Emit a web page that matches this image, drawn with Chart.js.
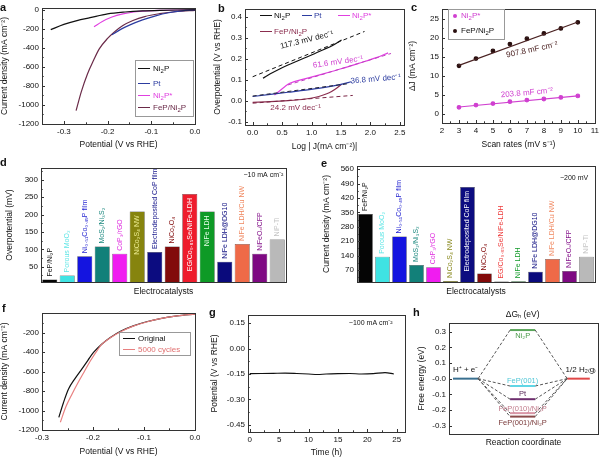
<!DOCTYPE html>
<html>
<head>
<meta charset="utf-8">
<script src="https://cdn.jsdelivr.net/npm/chart.js@4.4.1/dist/chart.umd.min.js"></script>
<style>
body { margin: 0; background: #fff; }
#fig { position: relative; width: 600px; height: 458px; overflow: hidden; font-family: "Liberation Sans", Arial, sans-serif; color: #111; }
.box { position: absolute; }
.letter { position: absolute; font-weight: bold; font-size: 11px; line-height: 12px; }
.leg { position: absolute; font-size: 8px; line-height: 10px; white-space: nowrap; }
.leg sub { font-size: 6px; vertical-align: -2px; line-height: 0; }
.legline { position: absolute; height: 0; }
.legbox { position: absolute; border: 1px solid #999; box-sizing: border-box; }
.legdot { position: absolute; width: 4px; height: 4px; border-radius: 2px; }
</style>
</head>
<body>
<div id="fig"></div>
<script>
// ---- panel a: polarization curves
var aNi2P_V = [-0.330, -0.300, -0.270, -0.240, -0.200, -0.160, -0.120, -0.080, -0.040, 0.000];
var aNi2P_J = [-208, -152, -112, -82, -42, -22, -10, -4, -1, 0];
var aPt_V = [-0.190, -0.170, -0.150, -0.120, -0.090, -0.060, -0.030, 0.000];
var aPt_J = [-262, -205, -160, -105, -62, -30, -10, 0];
var aNi2Ps_V = [-0.231, -0.212, -0.190, -0.165, -0.140, -0.110, -0.080, -0.040, 0.000];
var aNi2Ps_J = [-178, -122, -75, -42, -22, -10, -4, -1, 0];
var aFeP_V = [-0.272, -0.260, -0.246, -0.232, -0.219, -0.200, -0.185, -0.165, -0.142, -0.115, -0.081, -0.040, 0.000];
var aFeP_J = [-1060, -860, -674, -530, -410, -300, -235, -165, -112, -70, -40, -17, -5];
var aXTicks = [-0.3, -0.2, -0.1, 0.0];
var aXLabels = ['-0.3', '-0.2', '-0.1', '0.0'];
var aYTicks = [0, -200, -400, -600, -800, -1000, -1200];
var aYLabels = ['0', '-200', '-400', '-600', '-800', '-1000', '-1200'];

// ---- panel b: Tafel plots
var bNi2P_X = [0.175, 0.30, 0.45, 0.60, 0.75, 0.90, 1.05, 1.20, 1.35, 1.51];
var bNi2P_Y = [0.107, 0.128, 0.150, 0.170, 0.188, 0.206, 0.224, 0.243, 0.262, 0.289];
var bNi2PFit_X = [0.0, 1.9];
var bNi2PFit_Y = [0.114, 0.330];
var bPt_X = [0.0, 0.3, 0.6, 0.9, 1.2, 1.5, 1.68];
var bPt_Y = [0.020, 0.030, 0.040, 0.050, 0.062, 0.078, 0.090];
var bPtFit_X = [0.0, 1.6];
var bPtFit_Y = [0.022, 0.080];
var bNi2Ps_X = [0.37, 0.45, 0.55, 0.63, 0.90, 1.20, 1.50, 1.80, 2.10, 2.30];
var bNi2Ps_Y = [0.027, 0.045, 0.068, 0.083, 0.105, 0.128, 0.152, 0.178, 0.205, 0.228];
var bNi2PsFit_X = [0.6, 2.35];
var bNi2PsFit_Y = [0.075, 0.225];
var bFeP_X = [0.0, 0.3, 0.6, 0.9, 1.05, 1.2, 1.3, 1.4, 1.51];
var bFeP_Y = [-0.008, -0.005, 0.000, 0.008, 0.015, 0.027, 0.038, 0.055, 0.078];
var bFePFit_X = [0.0, 1.7];
var bFePFit_Y = [-0.012, 0.025];
var bXTicks = [0, 0.5, 1.0, 1.5, 2.0, 2.5];
var bXLabels = ['0.0', '0.5', '1.0', '1.5', '2.0', '2.5'];
var bYTicks = [-0.1, 0.0, 0.1, 0.2, 0.3, 0.4];
var bYLabels = ['-0.1', '0.0', '0.1', '0.2', '0.3', '0.4'];

// ---- panel c: double layer capacitance
var cScanRates = [3, 4, 5, 6, 7, 8, 9, 10];
var cFeP = [12.7, 14.6, 16.6, 18.4, 19.8, 21.2, 22.5, 24.1];
var cNi2Ps = [1.8, 2.4, 2.8, 3.3, 3.7, 4.0, 4.4, 4.8];
var cFePFit = [12.8, 24.2];
var cNi2PsFit = [1.9, 4.8];
var cXTicks = [2, 3, 4, 5, 6, 7, 8, 9, 10, 11];
var cYTicks = [0, 5, 10, 15, 20, 25];

// ---- panels d, e: comparison bars
var catalysts = ['FeP/Ni₂P', 'Porous MoO₂', 'Ni₀.₅₁Co₀.₄₉P film', 'MoS₂/Ni₃S₂', 'CoP₃/rGO', 'NiCo₂S₄ NW',
  'Electrodeposited CoP film', 'NiCo₂O₄', 'EG/Co₀.₈₅Se/NiFe-LDH', 'NiFe LDH', 'NiFe LDH@DG10',
  'NiFe LDH/Cu NW', 'NiFeOₓ/CFP', 'NiP-Ti'];
var barColors = ['#050505', '#3fe3e3', '#1414e0', '#128079', '#f01cf0', '#86840e', '#0c0c80', '#820a0a',
  '#ee1c2c', '#0e9a26', '#0a0a7c', '#ef6a48', '#7e0a82', '#b9b9b9'];
var barTextColors = ['#111', '#5ee6e6', '#1e1ed0', '#1f8a80', '#e030e0', '#8a8a20', '#14148a', '#820a0a',
  '#ee3a3a', '#139a2a', '#0e0e80', '#f08860', '#84128a', '#c4c4c4'];
var overpotential10 = [13, 25, 80, 108, 87, 209, 92, 108, 259, 209, 64, 115, 87, 128];
var current200 = [342, 134, 233, 94, 83, 17, 473, 53, 14, 16, 62, 124, 65, 134];
var dYTicks = [50, 100, 150, 200, 250, 300];
var eYTicks = [70, 140, 210, 280, 350, 420, 490, 560];

// ---- panel f: stability LSV
var fOrig_V = [-0.267, -0.258, -0.248, -0.235, -0.222, -0.210, -0.199, -0.183, -0.166, -0.145, -0.121, -0.095, -0.068, -0.035, 0.000];
var fOrig_J = [-1070, -920, -780, -670, -575, -485, -405, -320, -251, -185, -132, -90, -57, -30, -12];
var fCyc_V = [-0.264, -0.253, -0.241, -0.230, -0.218, -0.205, -0.190, -0.183, -0.166, -0.145, -0.121, -0.095, -0.068, -0.035, 0.000];
var fCyc_J = [-1120, -960, -830, -720, -610, -490, -370, -322, -255, -190, -135, -92, -58, -30, -12];
var fYTicks = [-200, -400, -600, -800, -1000, -1200];

// ---- panel g: chronopotentiometry
var gTime = [0, 2, 4, 6, 8, 10, 11.5, 13, 15, 17, 19, 21, 23, 24.5];
var gPotential = [-0.148, -0.147, -0.146, -0.145, -0.147, -0.150, -0.153, -0.150, -0.148, -0.147, -0.150, -0.148, -0.142, -0.150];
var gXTicks = [0, 5, 10, 15, 20, 25];
var gYTicks = [-0.45, -0.30, -0.15, 0.00, 0.15];
var gYLabels = ['-0.45', '-0.30', '-0.15', '0.00', '0.15'];

// ---- panel h: free energy diagram
var hStages = [0, 1, 2];
var hStartLevel = 0;
var hEndLevel = 0;
var hMidNames = ['Ni₂P', 'FeP(001)', 'Pt', 'FeP(010)/Ni₂P', 'FeP(001)/Ni₂P'];
var hMidDeltaG = [0.31, -0.047, -0.131, -0.22, -0.242];
var hMidColors = ['#5aa65a', '#5fd6e6', '#6e2e6e', '#d996a6', '#8a4a4a'];
var hYTicks = [-0.3, -0.2, -0.1, 0.0, 0.1, 0.2, 0.3];
var hYLabels = ['-0.3', '-0.2', '-0.1', '-0.0', '0.1', '0.2', '0.3'];

var FONT = '"Liberation Sans", Arial, sans-serif';
Chart.defaults.font.family = FONT;
Chart.defaults.font.size = 8;
Chart.defaults.color = '#111';
Chart.defaults.animation = false;

var fig = document.getElementById('fig');

function pts(xs, ys) {
    return xs.map(function (x, i) { return {x: x, y: ys[i]}; });
}

function curve(xs, ys, color, opt) {
    opt = opt || {};
    return {
        data: pts(xs, ys),
        showLine: opt.noLine ? false : true,
        borderColor: color,
        backgroundColor: color,
        borderWidth: opt.width || 1.2,
        borderDash: opt.dash || [],
        pointRadius: opt.radius || 0,
        pointStyle: opt.pointStyle || 'circle',
        tension: opt.straight ? 0 : 0.4,
        cubicInterpolationMode: opt.straight ? 'default' : 'monotone'
    };
}

function axis(type, pos, min, max, ticks, labels, title) {
    var a = {
        type: type,
        position: pos,
        grid: {display: false, drawTicks: false},
        border: {display: false},
        ticks: {
            display: !!labels,
            autoSkip: false,
            maxRotation: 0,
            padding: 3,
            color: '#111',
            font: {size: 8},
            callback: function (v, i) { return labels ? labels[i] : ''; }
        },
        title: {display: !!title, text: title, padding: 0, color: '#111', font: {size: 8.5}}
    };
    if (type === 'linear') {
        a.min = min;
        a.max = max;
        a.afterBuildTicks = function (s) {
            s.ticks = ticks.map(function (v) { return {value: v}; });
        };
    } else {
        a.offset = true;
    }
    return a;
}

function asText(arr) {
    return arr.map(function (v) { return String(v); });
}

// frame round the plot + inward tick marks
var framePlugin = {
    id: 'frame',
    afterDraw: function (chart, args, opts) {
        var ctx = chart.ctx, a = chart.chartArea;
        ctx.save();
        ctx.strokeStyle = '#333';
        ctx.lineWidth = 1;
        ctx.strokeRect(Math.round(a.left) + 0.5, Math.round(a.top) + 0.5,
            Math.round(a.right - a.left), Math.round(a.bottom - a.top));
        ['x', 'y'].forEach(function (id) {
            var s = chart.scales[id];
            if (!s || s.type !== 'linear') return;
            if (opts.skip && opts.skip.indexOf(id) >= 0) return;
            var vals = s.ticks.map(function (t) { return t.value; });
            var marks = vals.map(function (v) { return [v, 3]; });
            if (vals.length > 1 && opts.minor !== false) {
                var step = vals[1] - vals[0];
                for (var k = 0; k <= vals.length; k++) {
                    var m = vals[0] + (k - 0.5) * step;
                    if ((m - s.min) * (m - s.max) < 0) marks.push([m, 1.7]);
                }
            }
            ctx.beginPath();
            marks.forEach(function (mk) {
                var p = Math.round(s.getPixelForValue(mk[0])) + 0.5;
                if (id === 'x') { ctx.moveTo(p, a.bottom); ctx.lineTo(p, a.bottom - mk[1]); }
                else { ctx.moveTo(a.left, p); ctx.lineTo(a.left + mk[1], p); }
            });
            ctx.stroke();
        });
        ctx.restore();
    }
};

// free text placed in data coordinates
var notesPlugin = {
    id: 'notes',
    afterDatasetsDraw: function (chart, args, opts) {
        var items = opts.items;
        if (!items) return;
        var ctx = chart.ctx;
        for (var i = 0; i < items.length; i++) {
            var n = items[i];
            ctx.save();
            ctx.translate(chart.scales.x.getPixelForValue(n.x), chart.scales.y.getPixelForValue(n.y));
            ctx.rotate((n.rot || 0) * Math.PI / 180);
            ctx.font = (n.size || 8) + 'px ' + FONT;
            ctx.fillStyle = n.color || '#111';
            ctx.textAlign = n.align || 'center';
            ctx.textBaseline = 'middle';
            ctx.fillText(n.text, 0, 0);
            ctx.restore();
        }
    }
};

// vertical names on the bars
var barTextPlugin = {
    id: 'barText',
    afterDatasetsDraw: function (chart, args, opts) {
        if (!opts.names) return;
        var ctx = chart.ctx;
        var meta = chart.getDatasetMeta(0);
        meta.data.forEach(function (bar, i) {
            var inside = opts.inside.indexOf(i) >= 0;
            ctx.save();
            ctx.translate(bar.x, inside ? bar.y + 4 : bar.y - 3);
            ctx.rotate(-Math.PI / 2);
            ctx.font = '7px ' + FONT;
            ctx.textAlign = inside ? 'right' : 'left';
            ctx.textBaseline = 'middle';
            ctx.fillStyle = inside ? (opts.insideColor[opts.inside.indexOf(i)]) : opts.colors[i];
            ctx.fillText(opts.names[i], 0, 0);
            ctx.restore();
        });
    }
};

function makeChart(box, plot, type, datasets, scales, pluginOpts) {
    var div = document.createElement('div');
    div.className = 'box';
    div.style.left = box[0] + 'px';
    div.style.top = box[1] + 'px';
    div.style.width = box[2] + 'px';
    div.style.height = box[3] + 'px';
    var canvas = document.createElement('canvas');
    div.appendChild(canvas);
    fig.appendChild(div);

    var yW = plot[0] - box[0], xH = box[1] + box[3] - plot[3];
    scales.x.afterFit = function (s) {
        s.height = xH;
        s.paddingLeft = s.paddingRight = s.paddingTop = s.paddingBottom = 0;
    };
    scales.y.afterFit = function (s) {
        s.width = yW;
        s.paddingLeft = s.paddingRight = s.paddingTop = s.paddingBottom = 0;
    };
    var plugins = {legend: {display: false}, tooltip: {enabled: false}};
    for (var k in pluginOpts) plugins[k] = pluginOpts[k];
    return new Chart(canvas, {
        type: type,
        data: datasets,
        options: {
            responsive: true,
            maintainAspectRatio: false,
            animation: false,
            events: [],
            layout: {padding: {left: 0, top: plot[1] - box[1], right: box[0] + box[2] - plot[2], bottom: 0}},
            scales: scales,
            plugins: plugins
        },
        plugins: [framePlugin, notesPlugin, barTextPlugin]
    });
}

// ---------- a
makeChart([0, 0, 200, 150], [42, 8, 195, 124], 'scatter', {datasets: [
    curve(aNi2P_V, aNi2P_J, '#111'),
    curve(aPt_V, aPt_J, '#2c3ca0'),
    curve(aNi2Ps_V, aNi2Ps_J, '#e040e0'),
    curve(aFeP_V, aFeP_J, '#6a2a48')
]}, {
    x: axis('linear', 'bottom', -0.35, 0.0, aXTicks, aXLabels, 'Potential (V vs RHE)'),
    y: axis('linear', 'left', -1200, 20, aYTicks, aYLabels, 'Current density (mA cm⁻²)')
});

// ---------- b
makeChart([213, 0, 197, 152], [245, 9, 404, 125], 'scatter', {datasets: [
    curve(bNi2PFit_X, bNi2PFit_Y, '#111', {dash: [4, 3], straight: true, width: 1}),
    curve(bPtFit_X, bPtFit_Y, '#223', {dash: [4, 3], straight: true, width: 1}),
    curve(bNi2PsFit_X, bNi2PsFit_Y, '#c040c0', {dash: [4, 3], straight: true, width: 1}),
    curve(bFePFit_X, bFePFit_Y, '#7a2444', {dash: [4, 3], straight: true, width: 1}),
    curve(bNi2P_X, bNi2P_Y, '#111'),
    curve(bPt_X, bPt_Y, '#2c3ca0'),
    curve(bNi2Ps_X, bNi2Ps_Y, '#e040e0'),
    curve(bFeP_X, bFeP_Y, '#8b2d4e')
]}, {
    x: axis('linear', 'bottom', -0.13, 2.57, bXTicks, bXLabels, 'Log | J(mA cm⁻²)|'),
    y: axis('linear', 'left', -0.116, 0.437, bYTicks, bYLabels, 'Overpotential (V vs RHE)')
}, {notes: {items: [
    {x: 0.92, y: 0.289, text: '117.3 mV dec⁻¹', color: '#111', rot: -14},
    {x: 1.45, y: 0.184, text: '61.6 mV dec⁻¹', color: '#d040d0', rot: -8},
    {x: 2.09, y: 0.103, text: '36.8 mV dec⁻¹', color: '#2c3ca0', rot: -5},
    {x: 0.73, y: -0.035, text: '24.2 mV dec⁻¹', color: '#8b2d4e'}
]}});

// ---------- c
makeChart([408, 0, 192, 150], [442, 9, 595, 123], 'scatter', {datasets: [
    curve([cScanRates[0], cScanRates[cScanRates.length - 1]], cFePFit, '#4a2222', {straight: true}),
    curve([cScanRates[0], cScanRates[cScanRates.length - 1]], cNi2PsFit, '#d040d0', {straight: true}),
    curve(cScanRates, cFeP, '#2a1010', {noLine: true, radius: 1.8}),
    curve(cScanRates, cNi2Ps, '#d040d0', {noLine: true, radius: 1.8})
]}, {
    x: axis('linear', 'bottom', 2, 11, cXTicks, asText(cXTicks), 'Scan rates (mV s⁻¹)'),
    y: axis('linear', 'left', -2.3, 27.6, cYTicks, asText(cYTicks), 'ΔJ (mA cm⁻²)')
}, {notes: {items: [
    {x: 7.3, y: 16.9, text: '907.8 mF cm⁻²', color: '#4a2020', rot: -12},
    {x: 7.0, y: 5.6, text: '203.8 mF cm⁻²', color: '#d040d0', rot: -5}
]}});

// ---------- d
makeChart([5, 150, 290, 147], [41, 168, 286, 282], 'bar', {labels: catalysts, datasets: [{
    data: overpotential10, backgroundColor: barColors, borderColor: '#222', borderWidth: 0.5,
    barPercentage: 0.86, categoryPercentage: 1
}]}, {
    x: axis('category', 'bottom', 0, 0, null, null, 'Electrocatalysts'),
    y: axis('linear', 'left', 6, 334, dYTicks, asText(dYTicks), 'Overpotential (mV)')
}, {
    barText: {names: catalysts, colors: barTextColors, inside: [5, 8, 9], insideColor: ['#ecec90', '#fff', '#e8ffe8']},
    notes: {items: [{x: 13.35, y: 314, text: '−10 mA cm⁻²', align: 'right', size: 7}]}
});

// ---------- e
makeChart([322, 150, 278, 147], [357, 166, 595, 282], 'bar', {labels: catalysts, datasets: [{
    data: current200, backgroundColor: barColors, borderColor: '#222', borderWidth: 0.5,
    barPercentage: 0.86, categoryPercentage: 1
}]}, {
    x: axis('category', 'bottom', 0, 0, null, null, 'Electrocatalysts'),
    y: axis('linear', 'left', 12, 575, eYTicks, asText(eYTicks), 'Current density (mA cm⁻²)')
}, {
    barText: {names: catalysts, colors: barTextColors, inside: [6], insideColor: ['#fff']},
    notes: {items: [{x: 13.1, y: 516, text: '−200 mV', align: 'right', size: 7}]}
});

// ---------- f
makeChart([0, 300, 200, 157], [42, 313, 195, 430], 'scatter', {datasets: [
    curve(fCyc_V, fCyc_J, '#e88080'),
    curve(fOrig_V, fOrig_J, '#111')
]}, {
    x: axis('linear', 'bottom', -0.3, 0.0, aXTicks, aXLabels, 'Potential (V vs RHE)'),
    y: axis('linear', 'left', -1200, 0, fYTicks, asText(fYTicks), 'Current density (mA cm⁻²)')
});

// ---------- g
makeChart([210, 300, 200, 158], [248, 315, 405, 432], 'scatter', {datasets: [
    curve(gTime, gPotential, '#111')
]}, {
    x: axis('linear', 'bottom', -0.3, 26.4, gXTicks, asText(gXTicks), 'Time (h)'),
    y: axis('linear', 'left', -0.493, 0.199, gYTicks, gYLabels, 'Potential (V vs RHE)')
}, {notes: {items: [{x: 24.3, y: 0.15, text: '−100 mA cm⁻²', align: 'right', size: 7}]}});

// ---------- h
var hw = 0.22;
var hSets = [];
hMidDeltaG.forEach(function (g) {
    hSets.push(curve([hStages[0] + hw, hStages[1] - hw], [hStartLevel, g], '#555', {dash: [3, 2], straight: true, width: 1}));
    hSets.push(curve([hStages[1] + hw, hStages[2] - hw], [g, hEndLevel], '#555', {dash: [3, 2], straight: true, width: 1}));
});
hSets.push(curve([hStages[0] - hw, hStages[0] + hw], [hStartLevel, hStartLevel], '#3a7090', {straight: true, width: 2}));
hSets.push(curve([hStages[2] - hw, hStages[2] + hw * 0.8], [hEndLevel, hEndLevel], '#e04848', {straight: true, width: 2}));
hMidDeltaG.forEach(function (g, i) {
    hSets.push(curve([hStages[1] - hw, hStages[1] + hw], [g, g], hMidColors[i], {straight: true, width: 2}));
});
makeChart([417, 300, 183, 148], [449, 323, 598, 434], 'scatter', {datasets: hSets}, {
    x: axis('linear', 'bottom', -0.29, 2.32, [0, 1, 2], null, 'Reaction coordinate'),
    y: axis('linear', 'left', -0.353, 0.355, hYTicks, hYLabels, 'Free energy (eV)')
}, {
    frame: {skip: ['x'], minor: false},
    notes: {items: [
        {x: 1, y: 0.41, text: 'ΔGₕ (eV)', size: 8.5},
        {x: 0, y: 0.055, text: 'H⁺ + e⁻'},
        {x: 2.02, y: 0.055, text: '1/2 H₂₍g₎'},
        {x: 1, y: 0.272, text: hMidNames[0], color: '#4a9a4a', size: 7.5},
        {x: 1, y: -0.013, text: hMidNames[1], color: '#4fc6d6', size: 7.5},
        {x: 1, y: -0.100, text: hMidNames[2], color: '#5a2a5a', size: 7.5},
        {x: 1, y: -0.192, text: hMidNames[3], color: '#c07a8a', size: 7.5},
        {x: 1, y: -0.282, text: hMidNames[4], color: '#7a3a3a', size: 7.5}
    ]}
});

// ---------- panel letters and legends
function put(cls, x, y, html, style) {
    var d = document.createElement('div');
    d.className = cls;
    d.style.left = x + 'px';
    d.style.top = y + 'px';
    if (html) d.innerHTML = html;
    if (style) for (var k in style) d.style[k] = style[k];
    fig.appendChild(d);
    return d;
}
function legLine(x1, x2, y, color, dash) {
    put('legline', x1, y - 0.7, null, {width: (x2 - x1) + 'px', borderTop: '1.4px ' + (dash ? 'dashed ' : 'solid ') + color});
}
function legText(x, y, html, color) {
    put('leg', x, y - 5, html, {color: color});
}
function legDot(x, y, color) {
    put('legdot', x - 2, y - 2, null, {background: color});
}

[['a', 0, 1], ['b', 218, 2], ['c', 411, 1], ['d', 0, 156], ['e', 321, 157], ['f', 2, 302], ['g', 209, 306], ['h', 413, 306]]
    .forEach(function (l) { put('letter', l[1], l[2], l[0]); });

// a legend
put('legbox', 135, 60, null, {width: '59px', height: '57px'});
legLine(138, 150, 69, '#111'); legText(153, 69, 'Ni<sub>2</sub>P', '#111');
legLine(138, 150, 84, '#2c3ca0'); legText(153, 84, 'Pt', '#2c3ca0');
legLine(138, 150, 96, '#e040e0'); legText(153, 96, 'Ni<sub>2</sub>P*', '#e040e0');
legLine(138, 150, 108, '#6a2a48'); legText(153, 108, 'FeP/Ni<sub>2</sub>P', '#6a2a48');

// b legend
legLine(260, 272, 16, '#111'); legText(274, 16, 'Ni<sub>2</sub>P', '#111');
legLine(302, 312, 16, '#2c3ca0'); legText(314, 16, 'Pt', '#2c3ca0');
legLine(338, 350, 16, '#e040e0'); legText(352, 16, 'Ni<sub>2</sub>P*', '#e040e0');
legLine(260, 272, 32, '#8b2d4e'); legText(274, 32, 'FeP/Ni<sub>2</sub>P', '#8b2d4e');

// c legend
put('legbox', 448, 9, null, {width: '57px', height: '31px'});
legDot(455, 16, '#d040d0'); legText(461, 16, 'Ni<sub>2</sub>P*', '#d040d0');
legDot(455, 31, '#2a1010'); legText(461, 31, 'FeP/Ni<sub>2</sub>P', '#111');

// f legend
put('legbox', 119, 332, null, {width: '72px', height: '24px'});
legLine(123, 135, 339, '#111'); legText(138, 339, 'Original', '#111');
legLine(123, 135, 350, '#e88080'); legText(138, 350, '5000 cycles', '#e07070');
</script>
</body>
</html>
